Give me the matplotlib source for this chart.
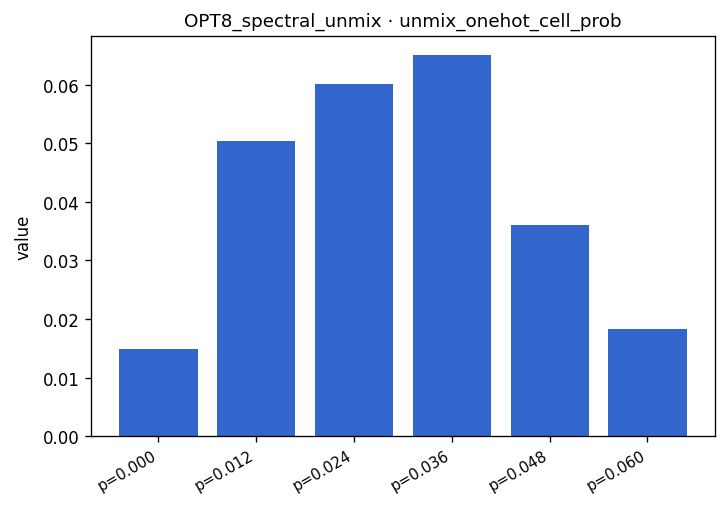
import matplotlib
matplotlib.use("Agg")
import matplotlib.pyplot as plt
import numpy as np

labels = ["p=0.000", "p=0.012", "p=0.024", "p=0.036", "p=0.048", "p=0.060"]
values = [0.0149, 0.0504, 0.0602, 0.0651, 0.0361, 0.0183]

fig = plt.figure(figsize=(728 / 120, 507 / 120), dpi=120)
ax = fig.add_axes([0.125, 0.138, 0.857, 0.789])
x = np.arange(len(labels))
ax.bar(x, values, color="#3366cc", width=0.8)
ax.set_xticks(x)
ax.set_xticklabels(labels, rotation=30, ha="right", fontsize=9)
ax.set_ylabel("value", labelpad=6)
ax.set_title("OPT8_spectral_unmix · unmix_onehot_cell_prob", fontsize=11)
fig.savefig("out.png", dpi=120)
